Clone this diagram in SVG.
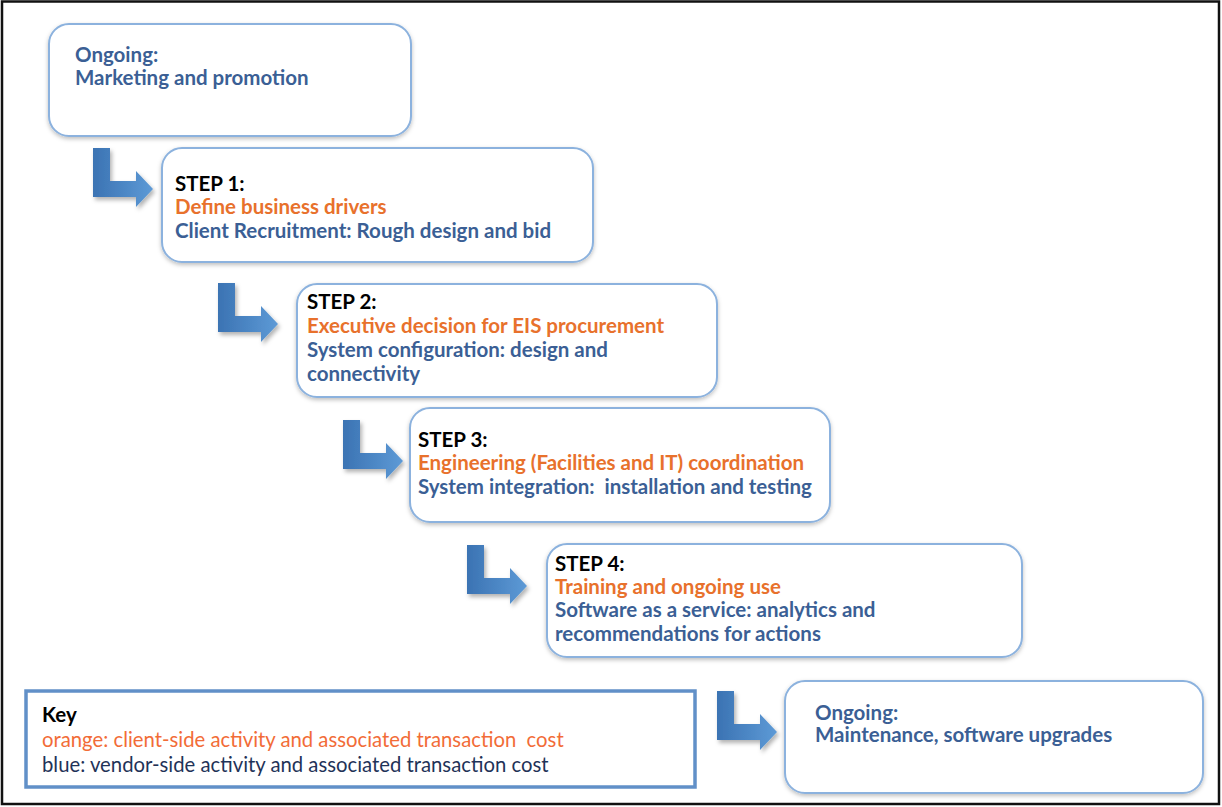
<svg xmlns="http://www.w3.org/2000/svg" width="1222" height="807" viewBox="0 0 1222 807">
  <style>
    .box { fill: #ffffff; stroke: #8cb2de; stroke-width: 2; filter: url(#boxShadow); }
    .key { fill: #ffffff; stroke: #6190c8; stroke-width: 3.5; }
    .t { font-family: Lato, "Open Sans", sans-serif; font-size: 20.5px; font-weight: bold; white-space: pre; }
    .k { font-family: Lato, "Open Sans", sans-serif; font-size: 20.3px; white-space: pre; }
    .step { fill: #000000; }
    .client { fill: #e8712c; }
    .vendor { fill: #3b5f95; }
    .arrow { fill: url(#arrowFill); filter: url(#arrowShadow); }
  </style>
  <defs>
    <filter id="boxShadow" x="-10%" y="-20%" width="120%" height="150%">
      <feDropShadow dx="0" dy="2" stdDeviation="2" flood-color="#000000" flood-opacity="0.25"/>
    </filter>
    <filter id="arrowShadow" x="-30%" y="-30%" width="170%" height="170%">
      <feDropShadow dx="2" dy="3" stdDeviation="2" flood-color="#000000" flood-opacity="0.3"/>
    </filter>
    <linearGradient id="arrowFill" x1="0" y1="0" x2="1" y2="0">
      <stop offset="0" stop-color="#3b73b3"/>
      <stop offset="1" stop-color="#5d9ad6"/>
    </linearGradient>
    <!-- bent arrow: down then right -->
    <path id="bentArrow" d="M0,0 H17 V33 H43 V23 L60,41 L43,59 V49 H0 Z"/>
  </defs>

  <rect x="0" y="0" width="1222" height="807" fill="#ffffff"/>
  <rect x="2" y="1.5" width="1217" height="802.5" fill="none" stroke="#111111" stroke-width="2.5"/>

  <g id="connectors">
    <use href="#bentArrow" class="arrow" x="93" y="148"/>
    <use href="#bentArrow" class="arrow" x="218" y="283"/>
    <use href="#bentArrow" class="arrow" x="343" y="420"/>
    <use href="#bentArrow" class="arrow" x="467" y="545"/>
    <use href="#bentArrow" class="arrow" x="717" y="691"/>
  </g>

  <g id="ongoing-marketing">
    <rect class="box" x="49" y="24" width="362" height="112" rx="20"/>
    <text class="t vendor" x="75" y="62">Ongoing:</text>
    <text class="t vendor" x="75" y="85">Marketing and promotion</text>
  </g>

  <g id="step1">
    <rect class="box" x="162" y="148" width="431" height="114" rx="20"/>
    <text class="t step" x="175" y="191">STEP 1:</text>
    <text class="t client" x="175" y="214">Define business drivers</text>
    <text class="t vendor" x="175" y="238">Client Recruitment: Rough design and bid</text>
  </g>

  <g id="step2">
    <rect class="box" x="297" y="284" width="420" height="113" rx="20"/>
    <text class="t step" x="307" y="309">STEP 2:</text>
    <text class="t client" x="307" y="333">Executive decision for EIS procurement</text>
    <text class="t vendor" x="307" y="357">System configuration: design and</text>
    <text class="t vendor" x="307" y="381">connectivity</text>
  </g>

  <g id="step3">
    <rect class="box" x="410" y="408" width="420" height="114" rx="20"/>
    <text class="t step" x="418" y="447">STEP 3:</text>
    <text class="t client" x="418" y="470">Engineering (Facilities and IT) coordination</text>
    <text class="t vendor" x="418" y="494">System integration:  installation and testing</text>
  </g>

  <g id="step4">
    <rect class="box" x="547" y="544" width="475" height="113" rx="20"/>
    <text class="t step" x="555" y="571">STEP 4:</text>
    <text class="t client" x="555" y="594">Training and ongoing use</text>
    <text class="t vendor" x="555" y="617">Software as a service: analytics and</text>
    <text class="t vendor" x="555" y="641">recommendations for actions</text>
  </g>

  <g id="ongoing-maintenance">
    <rect class="box" x="785" y="681" width="418" height="112" rx="20"/>
    <text class="t vendor" x="815" y="720">Ongoing:</text>
    <text class="t vendor" x="815" y="742">Maintenance, software upgrades</text>
  </g>

  <g id="key">
    <rect class="key" x="26" y="691" width="669" height="96"/>
    <text class="t step" x="42" y="722">Key</text>
    <text class="k" x="42" y="747" fill="#f26c37">orange: client-side activity and associated transaction  cost</text>
    <text class="k" x="42" y="772" fill="#1f3358">blue: vendor-side activity and associated transaction cost</text>
  </g>
</svg>
